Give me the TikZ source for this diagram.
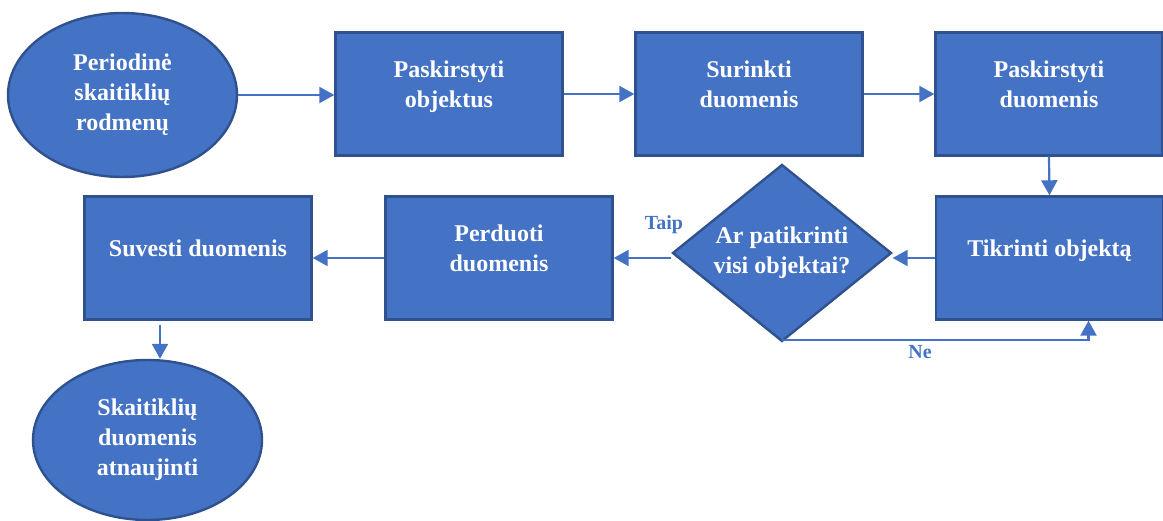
\documentclass[tikz,border=0pt]{standalone}
\usepackage{fontspec}
\setmainfont{Liberation Serif}
\usepackage{xcolor}
\usepackage{tikz}
\usetikzlibrary{shapes.geometric,arrows.meta}

\definecolor{flowblue}{HTML}{4472C4}
\definecolor{flowedge}{HTML}{2F528F}

\begin{document}
\begin{tikzpicture}[x=1pt,y=-1pt,
    font=\fontsize{24}{30}\selectfont\bfseries,
    box/.style={draw=flowedge,fill=flowblue,line width=2.4pt,text=white,
      align=center,minimum width=227pt,minimum height=123pt,text depth=19pt},
    oval/.style={ellipse,draw=flowedge,fill=flowblue,line width=2.4pt,
      text=white,align=center,inner sep=0pt},
    decision/.style={diamond,aspect=1.24,draw=flowedge,fill=flowblue,line width=2.4pt,
      text=white,align=center,inner sep=0pt,minimum width=219pt,minimum height=177pt},
    arrow/.style={draw=flowblue,line width=2.2pt,-{Triangle[length=15pt,width=16pt]}},
    tag/.style={text=flowblue,font=\fontsize{20}{24}\selectfont\bfseries}]
  \useasboundingbox (0,0) rectangle (1163,521);
  % first row
  \node[oval,minimum width=229pt,minimum height=164pt] (start) at (122.5,95)
    {Periodinė\\skaitiklių\\rodmenų};
  \node[box] (objektus) at (449,94) {Paskirstyti\\objektus};
  \node[box] (surinkti) at (749,94) {Surinkti\\duomenis};
  \node[box] (paskirstyti) at (1049,94) {Paskirstyti\\duomenis};
  % second row
  \node[box] (tikrinti) at (1049.5,258) {Tikrinti objektą};
  \node[decision] (patikrinti) at (782,253) {Ar patikrinti\\visi objektai?};
  \node[box] (perduoti) at (499,258) {Perduoti\\duomenis};
  \node[box] (suvesti) at (198,258) {Suvesti duomenis};
  \node[oval,minimum width=229pt,minimum height=160pt] (atnaujinti) at (147.5,440)
    {Skaitiklių\\duomenis\\atnaujinti};
  % connectors
  \draw[arrow] (start.east) -- (objektus.west |- start.east);
  \draw[arrow] (objektus.east) -- (surinkti.west);
  \draw[arrow] (surinkti.east) -- (paskirstyti.west);
  \draw[arrow] (paskirstyti.south) -- (tikrinti.north);
  \draw[arrow] (tikrinti.west) -- (tikrinti.west -| patikrinti.east);
  \draw[arrow] (patikrinti.west |- perduoti.east) -- (perduoti.east);
  \draw[arrow] (perduoti.west) -- (suvesti.east);
  \draw[arrow] ([yshift=3pt]patikrinti.south) -| ([xshift=39pt]tikrinti.south);
  \draw[arrow] ([xshift=-38pt,yshift=-4pt]suvesti.south)
    -- ([xshift=-38pt]suvesti.south |- atnaujinti.north);
  % branch labels
  \node[tag] (taip) at (664,225) {Taip};
  \node[tag] (ne) at (920,352) {Ne};
\end{tikzpicture}
\end{document}
